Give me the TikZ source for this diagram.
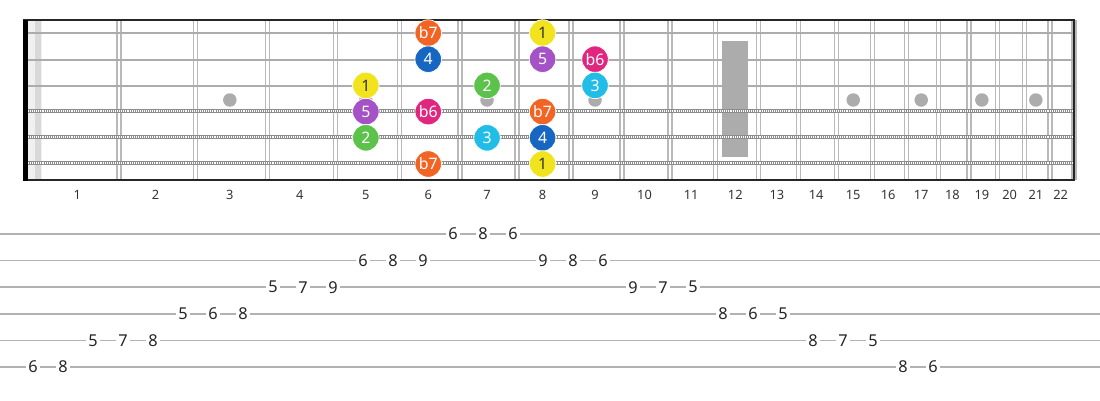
\documentclass[tikz,border=0pt]{standalone}
\usepackage{fontspec}
\setmainfont{Noto Sans}
\usetikzlibrary{positioning}
\definecolor{degone}{HTML}{F2E31F}
\definecolor{degtwo}{HTML}{5DC24B}
\definecolor{degthree}{HTML}{22BDE6}
\definecolor{degfour}{HTML}{1767C2}
\definecolor{degfive}{HTML}{A552C6}
\definecolor{degsix}{HTML}{E0267F}
\definecolor{degseven}{HTML}{F26424}

\begin{document}
\begin{tikzpicture}[x = .02cm, y = -.02cm,
    declare function={fret(\n) = 38.5 + 1439.5*(1 - exp(-0.0577623*\n));
                      mid(\n) = (fret(\n - 1) + fret(\n))/2 - 1.5;},
    wire/.style={draw=gray!55, line width=.75pt},
    plain/.style={draw=gray!65, line width=1.5pt},
    wound/.style={draw=gray!90, line width=2.2pt},
    inlay/.style={circle, fill=gray!65, inner sep=0pt, minimum size=.27cm},
    deg/.style={circle, draw=white, line width=.4pt, inner sep=0pt,
                minimum size=.53cm, text=white, font=\fontsize{9}{9}\selectfont},
    d1/.style={deg, fill=degone, text=black!80},
    d2/.style={deg, fill=degtwo},
    d3/.style={deg, fill=degthree},
    d4/.style={deg, fill=degfour},
    d5/.style={deg, fill=degfive},
    db6/.style={deg, fill=degsix},
    db7/.style={deg, fill=degseven},
    fretnum/.style={font=\fontsize{7.3}{8}\selectfont, text=black!80},
    tabline/.style={draw=gray!60, line width=1pt},
    tabnum/.style={fill=white, inner xsep=1.2pt, inner ysep=1pt,
                   font=\fontsize{9.3}{9}\selectfont, text=black!85}]
  \useasboundingbox (0,0) rectangle (1100,400);

  \fill[gray!12] (28,20) rectangle (42,180);
  \fill[gray!30] (35,20) rectangle (41,180);
  \foreach \n in {1,...,22} {
    \draw[wire] ({fret(\n) - 2},20) -- ({fret(\n) - 2},180);
    \draw[wire] ({fret(\n) + 2},20) -- ({fret(\n) + 2},180);
  }

  \foreach \n in {3,5,7,9,15,17,19,21}
    \node[inlay] (dot\n) at ({mid(\n)},100) {};
  \fill[gray!65] (722,41) rectangle (748,157);

  \foreach \y in {33,60,86}
    \draw[plain] (28,\y) -- (1074,\y);
  \foreach \y in {111,137,163} {
    \draw[wound] (28,\y) -- (1074,\y);
    \draw[white, line width=.8pt, dash pattern=on .5pt off .6pt] (28,\y) -- (1074,\y);
  }

  \draw[black!85, line width=1.3pt] (23,20) -- (1074,20) -- (1074,180) -- (23,180);
  \fill[black] (23,19.5) rectangle (28,180.5);

  \foreach \s/\f/\d in {1/6/b7, 1/8/1, 2/6/4, 2/8/5, 2/9/b6, 3/5/1, 3/7/2, 3/9/3,
                        4/5/5, 4/6/b6, 4/8/b7, 5/5/2, 5/7/3, 5/8/4, 6/6/b7, 6/8/1}
    \node[d\d] (s\s f\f) at ({mid(\f)},{33 + 26.2*(\s - 1)}) {\d};

  \foreach \n in {1,...,22}
    \node[fretnum] (num\n) at ({mid(\n)},195) {\n};

  \foreach \l in {1,...,6}
    \draw[tabline] (0,{234 + 26.6*(\l - 1)}) -- (1100,{234 + 26.6*(\l - 1)});

  \foreach \i/\l/\d in {0/6/6, 1/6/8, 2/5/5, 3/5/7, 4/5/8, 5/4/5, 6/4/6, 7/4/8,
                        8/3/5, 9/3/7, 10/3/9, 11/2/6, 12/2/8, 13/2/9, 14/1/6, 15/1/8,
                        16/1/6, 17/2/9, 18/2/8, 19/2/6, 20/3/9, 21/3/7, 22/3/5, 23/4/8,
                        24/4/6, 25/4/5, 26/5/8, 27/5/7, 28/5/5, 29/6/8, 30/6/6}
    \node[tabnum] (t\i) at ({33 + 30*\i},{234 + 26.6*(\l - 1)}) {\d};
\end{tikzpicture}
\end{document}
